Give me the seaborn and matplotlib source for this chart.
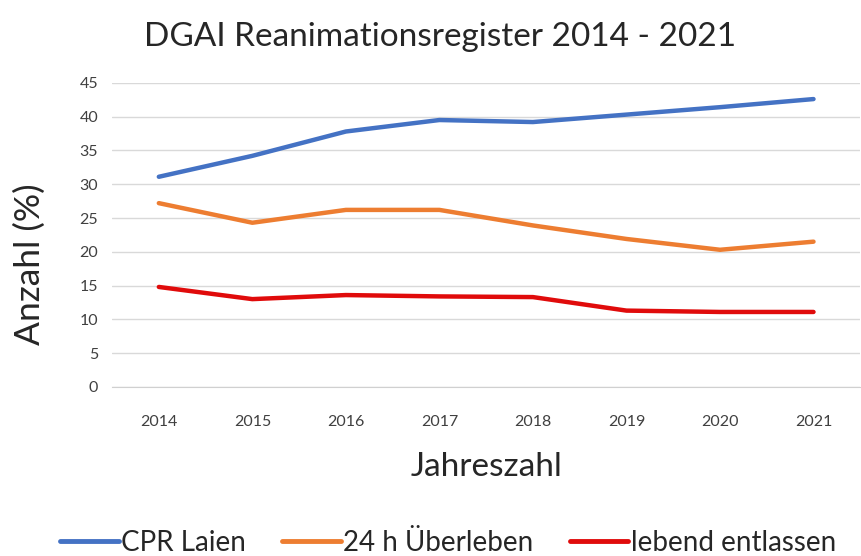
import pandas as pd
import numpy as np
import matplotlib.pyplot as plt
import seaborn as sns

# data
years = [2014, 2015, 2016, 2017, 2018, 2019, 2020, 2021]
cpr_laien = [31.1, 34.2, 37.8, 39.5, 39.2, 40.3, 41.4, 42.6]
ueberleben_24h = [27.2, 24.3, 26.2, 26.2, 23.9, 21.9, 20.3, 21.5]
lebend_entlassen = [14.8, 13.0, 13.6, 13.4, 13.3, 11.3, 11.1, 11.1]

series_names = ["CPR Laien", "24 h Überleben", "lebend entlassen"]
colors = ["#4472C4", "#ED7D31", "#E00B0B"]

df = pd.DataFrame({
    "pos": list(range(len(years))) * 3,
    "wert": cpr_laien + ueberleben_24h + lebend_entlassen,
    "serie": [s for s in series_names for _ in years],
})

sns.set_style("white")
plt.rcParams["font.family"] = ["Lato", "DejaVu Sans"]

fig = plt.figure(figsize=(8.62, 5.56), dpi=100)
ax = fig.add_axes([0.130, 0.304, 0.868, 0.547])

sns.lineplot(data=df, x="pos", y="wert", hue="serie", palette=colors,
             linewidth=3.2, ax=ax, legend=False)

ax.set_xlim(-0.5, len(years) - 0.5)
ax.set_ylim(0, 45)
ax.set_yticks(np.arange(0, 50, 5))
ax.set_xticks(range(len(years)))
ax.set_xticklabels([str(y) for y in years])
ax.set_xticks(np.arange(-0.5, len(years), 1), minor=True)
ax.tick_params(axis="x", which="major", length=0, pad=20, labelsize=11.5, colors="#404040")
ax.tick_params(axis="x", which="minor", length=8, color="#d0d0d0", width=1)
ax.tick_params(axis="y", length=0, pad=10, labelsize=11.5, colors="#404040")

ax.grid(axis="y", color="#d9d9d9", linewidth=1)
ax.set_axisbelow(True)
for side in ["top", "right", "left"]:
    ax.spines[side].set_visible(False)
ax.spines["bottom"].set_color("#d0d0d0")

ax.set_xlabel("Jahreszahl", fontsize=24, color="#262626", labelpad=17)
ax.set_ylabel("Anzahl (%)", fontsize=25.5, color="#262626")
ax.yaxis.set_label_coords(-0.089, 0.405)
fig.suptitle("DGAI Reanimationsregister 2014 - 2021", fontsize=24, color="#262626",
             x=0.51, y=0.96)

handles = [plt.Line2D([], [], color=c, linewidth=3.5) for c in colors]
fig.legend(handles, series_names, loc="lower center", ncol=3, frameon=False,
           fontsize=20, handlelength=2.1, handletextpad=0.1, columnspacing=1.3,
           bbox_to_anchor=(0.52, -0.045), labelcolor="#262626")

fig.savefig("out.png", dpi=100)
